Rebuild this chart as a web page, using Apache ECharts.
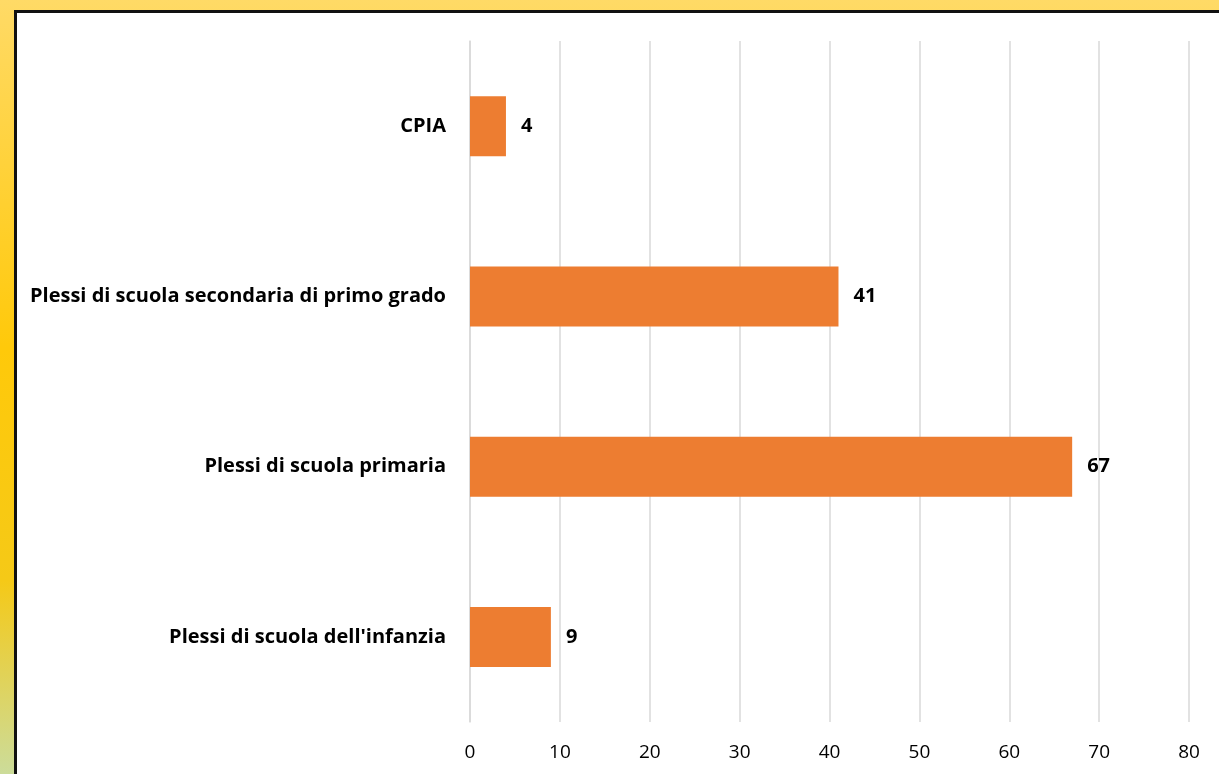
<!DOCTYPE html>
<head>
    <meta charset="utf-8">
    <title>ECharts</title>
    <script type="text/javascript" src="https://cdn.jsdelivr.net/npm/echarts@6/dist/echarts.min.js"></script>
    <style>
        body { margin: 0; width: 1219px; height: 774px; overflow: hidden;
               background: linear-gradient(to bottom, #ffda66 0%, #ffc90a 45%, #f5c917 75%, #ccdc9a 100%); }
        #main { position: absolute; left: 14px; top: 10px; width: 1205px; height: 764px;
                background: #fff; border-left: 3px solid #111; border-top: 3px solid #111; }
    </style>
</head>
<body>
    <div id="main"></div>
    <script type="text/javascript">
     var categories = ["Plessi di scuola dell'infanzia", 'Plessi di scuola primaria', 'Plessi di scuola secondaria di primo grado', 'CPIA'];
     var values = [9, 67, 41, 4];

     var myChart = echarts.init(document.getElementById('main'));
     myChart.setOption({
         animation: false,
         textStyle: { fontFamily: 'Open Sans' },
         grid: { left: 453, right: 33, top: 28, bottom: 55 },
         xAxis: {
             type: 'value', min: 0, max: 80, interval: 10,
             axisLine: { show: false }, axisTick: { show: false },
             splitLine: { lineStyle: { color: '#d9d9d9', width: 1.5 } },
             axisLabel: { color: '#000', fontSize: 19, margin: 21 }
         },
         yAxis: {
             type: 'category', data: categories,
             axisLine: { lineStyle: { color: '#d9d9d9', width: 1.5 } },
             axisTick: { show: false },
             axisLabel: { color: '#000', fontSize: 20, fontWeight: 'bold', margin: 24 }
         },
         series: [{
             type: 'bar', data: values, barWidth: 60,
             itemStyle: { color: '#ed7d31' },
             label: { show: true, position: 'right', distance: 15, color: '#000', fontSize: 20, fontWeight: 'bold' }
         }]
     });
    </script>
</body>
